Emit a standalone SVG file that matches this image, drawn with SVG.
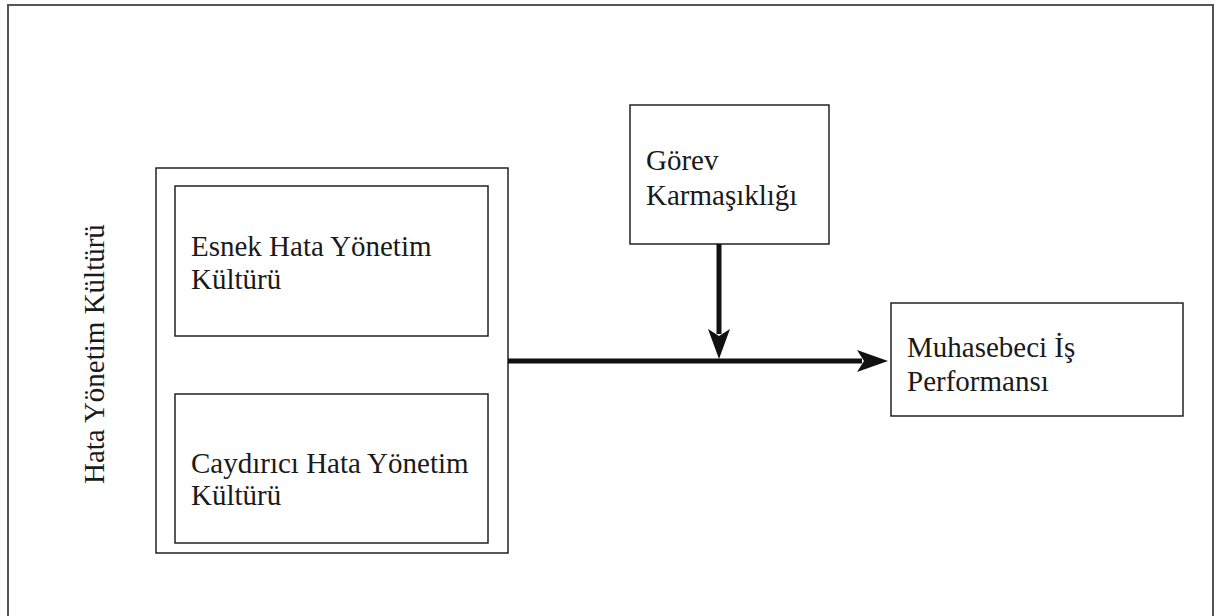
<svg xmlns="http://www.w3.org/2000/svg" width="1218" height="616" viewBox="0 0 1218 616">
<style>
.box{fill:#fff;stroke:#222;stroke-width:1.5}
.t{font-family:"Liberation Serif","Times New Roman",serif;font-size:29px;fill:#1a1a1a}
.c{stroke:#111;stroke-width:5;fill:none}
.h{fill:#111}
</style>
<rect width="1218" height="616" fill="#fff"/>
<rect x="8" y="5" width="1205" height="640" fill="none" stroke="#555" stroke-width="2"/>
<g id="group-hata">
<rect class="box" x="156" y="168" width="352" height="385"/>
<text class="t" transform="translate(104,484) rotate(-90)">Hata Yönetim Kültürü</text>
</g>
<g id="node-esnek">
<rect class="box" x="175" y="186" width="313" height="150"/>
<text class="t" x="191" y="256">Esnek Hata Yönetim</text>
<text class="t" x="191" y="289">Kültürü</text>
</g>
<g id="node-caydirici">
<rect class="box" x="175" y="394" width="313" height="149"/>
<text class="t" x="191" y="473">Caydırıcı Hata Yönetim</text>
<text class="t" x="191" y="505">Kültürü</text>
</g>
<g id="node-gorev">
<rect class="box" x="630" y="105" width="199" height="139"/>
<text class="t" x="646" y="170">Görev</text>
<text class="t" x="646" y="205">Karmaşıklığı</text>
</g>
<g id="node-muhasebeci">
<rect class="box" x="891" y="303" width="292" height="113"/>
<text class="t" x="907" y="357">Muhasebeci İş</text>
<text class="t" x="907" y="391">Performansı</text>
</g>
<g id="connectors">
<line class="c" x1="508" y1="361" x2="862" y2="361"/>
<polygon class="h" points="857,350 888,361 857,372 864,361"/>
<line class="c" x1="719" y1="244" x2="719" y2="334"/>
<polygon class="h" points="708,329 719,359 730,329 719,336"/>
</g>
</svg>
